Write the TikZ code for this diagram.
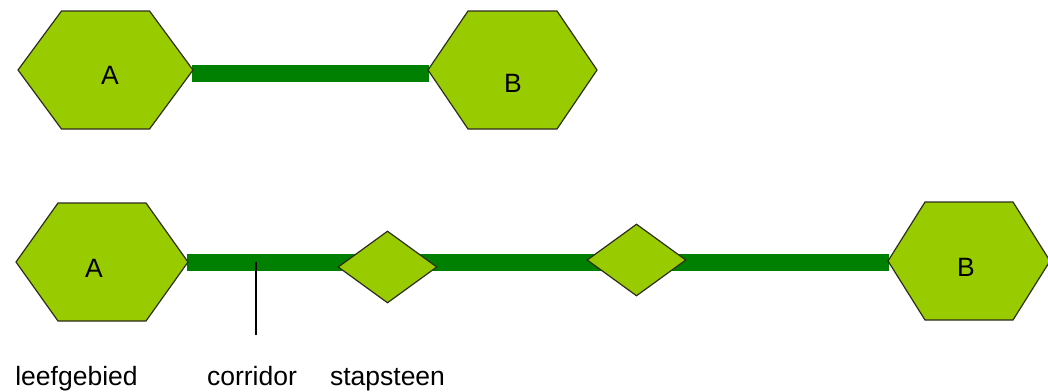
\documentclass[tikz,border=0pt]{standalone}
\usepackage{fontspec}
\setmainfont{Liberation Sans}
\usetikzlibrary{shapes.geometric,shapes.symbols,backgrounds}
\definecolor{leaf}{RGB}{153,204,0}
\definecolor{corridorgreen}{RGB}{0,128,0}
\definecolor{rim}{RGB}{45,45,30}
\tikzset{
  gebied/.style={signal, signal to=east and west, draw=rim, fill=leaf,
    line width=1.2pt, inner sep=0pt, minimum height=118pt},
  steen/.style={diamond, draw=rim, fill=leaf, line width=1.2pt,
    inner sep=0pt, minimum width=99pt, minimum height=72pt},
  strook/.style={draw=corridorgreen, line width=17pt},
  tag/.style={font=\fontsize{26.5}{30}\selectfont, inner sep=0pt}
}
\begin{document}
\begin{tikzpicture}[x=1pt,y=-1pt]
  \useasboundingbox (0,0) rectangle (1048,391);
  % top row: A and B joined directly
  \node[gebied, minimum width=175pt, signal pointer angle=107.2] (a1) at (105.5,70)  {};
  \node[gebied, minimum width=169pt, signal pointer angle=111.7] (b1) at (512.5,70)  {};
  \node[tag] (ta1) at (110,75) {A};
  \node[tag] (tb1) at (513,83) {B};
  % bottom row: A and B joined via stepping stones
  \node[gebied, minimum width=172pt, signal pointer angle=109.1] (a2) at (102,262)   {};
  \node[gebied, minimum width=162pt, signal pointer angle=115.8] (b2) at (969,261)   {};
  \node[steen] (s1) at (387.5,267) {};
  \node[steen] (s2) at (636.5,260) {};
  \node[tag] (ta2) at (94,268)  {A};
  \node[tag] (tb2) at (966,267) {B};
  \begin{scope}[on background layer]
    \draw[strook] ([xshift=-1.5pt,yshift=-3.5pt]a1.east) -- ([xshift=1.5pt,yshift=-3.5pt]b1.west);
    \draw[strook] ([xshift=-1.5pt]a2.east) -- ([xshift=1.5pt]a2.east -| b2.west);
  \end{scope}
  % legend
  \coordinate (cpin) at (256,261.5);
  \coordinate (cend) at (256,335);
  \draw[line width=1.3pt] (cpin) -- (cend);
  \node[tag, anchor=base] (lgeb)  at (76.5,385)  {leefgebied};
  \node[tag, anchor=base] (lcor)  at (252,385)   {corridor};
  \node[tag, anchor=base] (lstap) at (387.5,385) {stapsteen};
\end{tikzpicture}
\end{document}
